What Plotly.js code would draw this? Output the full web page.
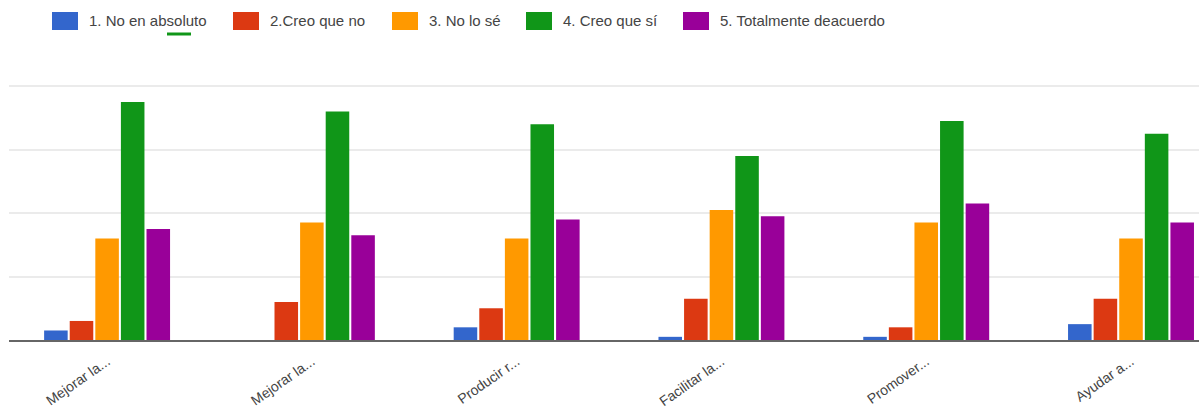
<!DOCTYPE html>
<html>
<head>
<meta charset="utf-8">
<script src="https://cdn.plot.ly/plotly-3.0.1.min.js"></script>
<style>html,body{margin:0;padding:0;background:#fff;}#chart{width:1199px;height:415px;}</style>
</head>
<body>
<div id="chart"></div>
<script>
// ---- data ----
const categories = ['Mejorar la...', 'Mejorar la...', 'Producir r...', 'Facilitar la...', 'Promover...', 'Ayudar a...'];
const seriesNames = ['1. No en absoluto', '2.Creo que no', '3. No lo sé', '4. Creo que sí', '5. Totalmente deacuerdo'];
const noEnAbsoluto = [3, 0, 4, 1, 1, 5];
const creoQueNo = [6, 12, 10, 13, 4, 13];
const noLoSe = [32, 37, 32, 41, 37, 32];
const creoQueSi = [75, 72, 68, 58, 69, 65];
const totalmenteDeacuerdo = [35, 33, 38, 39, 43, 37];

// ---- styling ----
const colors = ['#3366cc', '#dc3912', '#ff9900', '#109618', '#990099'];
const seriesValues = [noEnAbsoluto, creoQueNo, noLoSe, creoQueSi, totalmenteDeacuerdo];
const positions = categories.map((c, i) => i);

const traces = seriesValues.map((vals, s) => ({
  type: 'bar',
  name: seriesNames[s],
  x: positions,
  y: vals,
  marker: {color: colors[s], line: {width: 0}},
  showlegend: false,
  hoverinfo: 'y'
}));

// custom legend (large swatches as in the reference)
const margin = {l: 9, r: 0, t: 83, b: 75};
const plotW = 1199 - margin.l - margin.r;
const plotH = 415 - margin.t - margin.b;
const legendSwatchX = [52, 233, 392, 526, 683];
const legendY = 21;
const px2x = px => (px - margin.l) / plotW;
const px2y = py => (415 - margin.b - py) / plotH;

const shapes = [];
const annotations = [];
seriesNames.forEach((name, s) => {
  const x0 = legendSwatchX[s];
  shapes.push({type: 'rect', xref: 'paper', yref: 'paper',
    x0: px2x(x0), x1: px2x(x0 + 26), y0: px2y(legendY + 9), y1: px2y(legendY - 9),
    fillcolor: colors[s], line: {width: 0}});
  annotations.push({xref: 'paper', yref: 'paper', x: px2x(x0 + 35), y: px2y(legendY),
    xanchor: 'left', yanchor: 'middle', text: name, showarrow: false,
    font: {family: 'Liberation Sans, Arial, sans-serif', size: 15, color: '#444'}});
});
// small green underline artifact under "absoluto"
shapes.push({type: 'line', xref: 'paper', yref: 'paper',
  x0: px2x(167), x1: px2x(191), y0: px2y(34), y1: px2y(34),
  line: {color: '#109618', width: 3}});

const layout = {
  width: 1199, height: 415,
  margin: margin,
  paper_bgcolor: '#ffffff', plot_bgcolor: '#ffffff',
  barmode: 'group',
  bargap: 0.375,
  bargroupgap: 0.08,
  showlegend: false,
  xaxis: {
    range: [-0.479, 5.332],
    tickvals: positions,
    ticktext: categories,
    tickangle: -35,
    ticks: '',
    ticklabelstandoff: 6,
    showgrid: false,
    zeroline: false,
    showline: true,
    linecolor: '#666',
    linewidth: 2,
    tickfont: {family: 'Liberation Sans, Arial, sans-serif', size: 14, color: '#444'}
  },
  yaxis: {
    range: [0, 81],
    dtick: 20,
    showticklabels: false,
    ticks: '',
    showgrid: true,
    gridcolor: '#ebebeb',
    gridwidth: 2,
    zeroline: false,
    showline: false
  },
  shapes: shapes,
  annotations: annotations
};

Plotly.newPlot('chart', traces, layout, {displayModeBar: false, staticPlot: true});
</script>
</body>
</html>
